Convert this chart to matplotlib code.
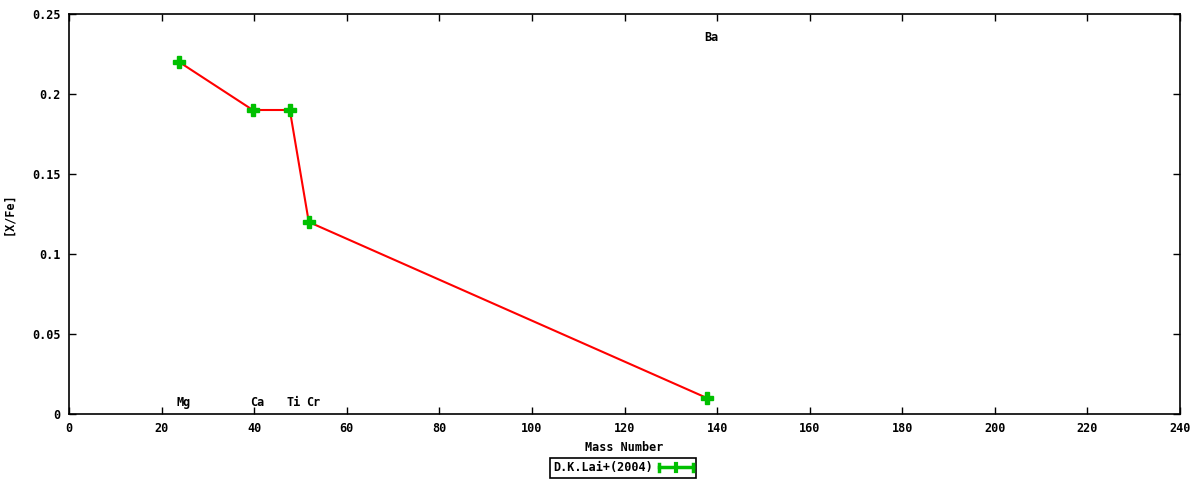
import matplotlib
matplotlib.use("Agg")
import matplotlib.pyplot as plt
from matplotlib.lines import Line2D
from matplotlib.legend_handler import HandlerBase

# element abundances [X/Fe] vs mass number
elements = ["Mg", "Ca", "Ti", "Cr", "Ba"]
mass = [23.8, 39.7, 47.7, 51.8, 137.8]
xfe = [0.22, 0.19, 0.19, 0.12, 0.01]
label_y = [0.007, 0.007, 0.007, 0.007, 0.235]

plt.rcParams['font.family'] = ['DejaVu Sans Mono']
plt.rcParams['font.weight'] = 'bold'
plt.rcParams['font.size'] = 8.5

GREEN = '#00c000'


class KeySample(HandlerBase):
    # gnuplot-ish key sample: |--+--|
    def create_artists(self, legend, orig, xd, yd, w, h, fontsize, trans):
        y = h / 2 - yd
        x0, x1 = -xd, w - xd
        xm = (x0 + x1) / 2
        arts = [
            Line2D([x0, x1], [y, y], color=GREEN, lw=2.5),
            Line2D([x0, x0], [y - 2.5, y + 2.5], color=GREEN, lw=2.5),
            Line2D([x1, x1], [y - 2.5, y + 2.5], color=GREEN, lw=2.5),
            Line2D([xm, xm], [y - 2.5, y + 2.5], color=GREEN, lw=3),
        ]
        for a in arts:
            a.set_transform(trans)
        return arts


fig = plt.figure(figsize=(12, 4.8), dpi=100)
ax = fig.add_axes([69 / 1200, 66 / 480, 1111 / 1200, 400 / 480])

ax.plot(mass, xfe, color='red', lw=1.5, zorder=2)
pts, = ax.plot(mass, xfe, ls='none', marker='P', ms=9, color=GREEN,
               mec=GREEN, zorder=3, label='D.K.Lai+(2004)')

for el, m, ly in zip(elements, mass, label_y):
    ax.annotate(el, (m, ly), xytext=(3, 0), textcoords='offset points',
                ha='center', va='center', fontweight='bold')

ax.set_xlim(0, 240)
ax.set_ylim(0, 0.25)
ax.set_xticks(range(0, 241, 20))
yt = [0, 0.05, 0.1, 0.15, 0.2, 0.25]
ax.set_yticks(yt)
ax.set_yticklabels(["0", "0.05", "0.1", "0.15", "0.2", "0.25"])
ax.tick_params(direction='in', top=True, right=True, length=5, width=1, pad=6)
for s in ax.spines.values():
    s.set_linewidth(1.2)

ax.set_xlabel("Mass Number", fontweight='bold', labelpad=4)
ax.set_ylabel("[X/Fe]", fontweight='bold', labelpad=12)

leg = fig.legend([pts], ['D.K.Lai+(2004)'], handler_map={pts: KeySample()},
                 loc='center', bbox_to_anchor=(623 / 1200, 1 - 468 / 480),
                 markerfirst=False, fancybox=False, framealpha=1,
                 edgecolor='black', borderpad=0.3, handlelength=2.9,
                 handletextpad=0.5, borderaxespad=0)
leg.get_frame().set_linewidth(1.2)

fig.savefig("out.png", dpi=100)
